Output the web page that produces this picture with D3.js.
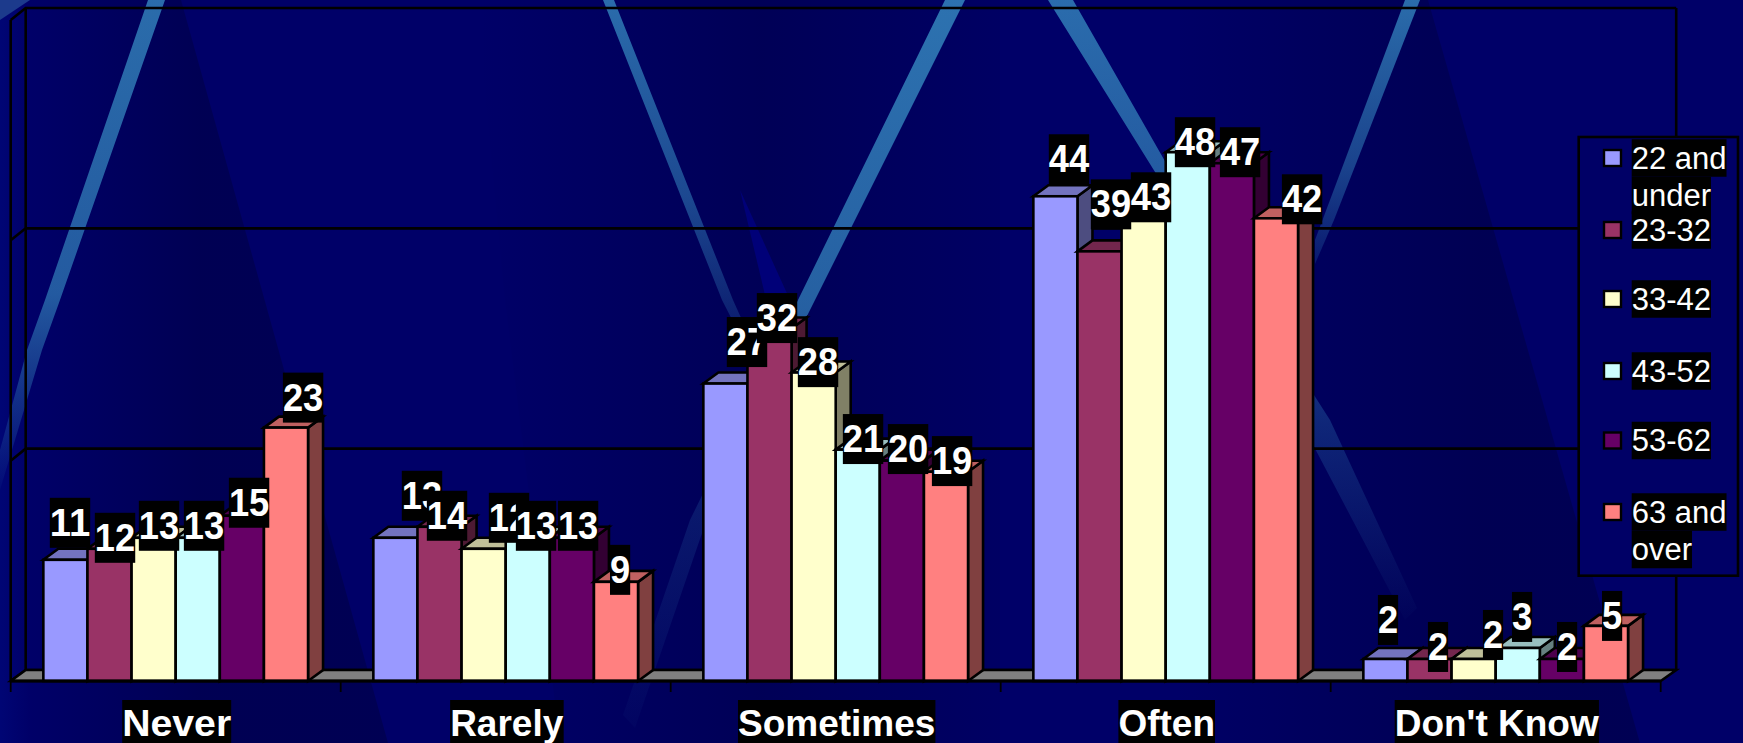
<!DOCTYPE html>
<html><head><meta charset="utf-8">
<style>html,body{margin:0;padding:0;background:#000066;overflow:hidden}svg{display:block}text{font-family:"Liberation Sans",Arial,sans-serif}</style>
<script src="https://cdn.jsdelivr.net/npm/d3@7"></script>
</head><body><svg id="c" width="1743" height="743"></svg>
<script>
const categories = ["Never","Rarely","Sometimes","Often","Don't Know"];
const seriesNames = ["22 and under","23-32","33-42","43-52","53-62","63 and over"];
const legendLines = [["22 and","under"],["23-32"],["33-42"],["43-52"],["53-62"],["63 and","over"]];
const s22 = [11,13,27,44,2];
const s23 = [12,14,32,39,2];
const s33 = [13,12,28,43,2];
const s43 = [13,13,21,48,3];
const s53 = [15,13,20,47,2];
const s63 = [23,9,19,42,5];
const seriesValues = [s22,s23,s33,s43,s53,s63];
const colors = ["#9999FF","#993366","#FFFFCC","#CCFFFF","#660066","#FF8080"];
const yTicks = [0,20,40,60];

// layout: hand-moved data labels, nudged from each bar's top centre [series][category]
const labelDx = [[4.6,26.6,21.6,13.6,2.6],[5.5,7.5,7.5,11.5,8.5],[5.4,25.4,4.4,7.4,19.4],[6.3,8.3,5.3,7.3,4.3],[7.2,6.2,6.2,8.2,5.2],[17.1,4.1,6.1,26.1,6.1]];
const labelDy = [[-37,-42,-41.5,-37,-39],[-11,-11,-10.4,-47,-12],[-12,-31,-10.4,-10,-24],[-12,-12,-10.6,-10,-31],[-13,-12,-11.6,-11,-12],[-30,-12,-10.6,-19,-10]];

const svg = d3.select("#c");
const defs = svg.append("defs");
function lg(id,x1,y1,x2,y2,stops){
  const g=defs.append("linearGradient").attr("id",id).attr("gradientUnits","userSpaceOnUse")
    .attr("x1",x1).attr("y1",y1).attr("x2",x2).attr("y2",y2);
  stops.forEach(s=>g.append("stop").attr("offset",s[0]).attr("stop-color",s[1]).attr("stop-opacity",s[2]));
}
const dk="#00003a", lt="#2f78b4";
lg("edge",0,0,30,0,[[0,"#0018a0",.22],[1,"#0018a0",0]]);
lg("wedgeA",30,0,200,0,[[0,dk,0],[1,dk,.45]]);
lg("wedgeB",480,0,760,0,[[0,dk,0],[1,dk,.38]]);
lg("wedgeC",760,0,1000,0,[[0,dk,.38],[1,dk,.1]]);
lg("wedgeD",1180,0,1480,0,[[0,dk,.05],[1,dk,.45]]);
lg("fadeA",0,0,0,490,[[0,lt,.9],[.6,lt,.75],[1,lt,.05]]);
lg("fadeB",0,0,0,360,[[0,lt,.9],[.55,lt,.6],[1,lt,.15]]);
lg("fadeC",0,0,0,735,[[0,lt,.95],[.42,lt,.8],[.6,lt,.28],[.7,lt,.2],[1,lt,.03]]);
lg("fadeD",0,0,0,620,[[0,lt,.9],[.3,lt,.75],[.7,lt,.3],[1,lt,.02]]);
lg("fadeE",0,0,0,280,[[0,lt,.9],[.6,lt,.55],[1,lt,.15]]);

// decorative slide background
const bg = svg.append("g");
const line = d3.line();
bg.append("rect").attr("width",1743).attr("height",743).attr("fill","#000068");
[
 [[[0,0],[30,0],[30,743],[0,743]],"url(#edge)"],
 [[[25,0],[181,0],[388,743],[25,743]],"url(#wedgeA)"],
 [[[476,0],[505,300],[560,743],[760,743],[760,0]],"url(#wedgeB)"],
 [[[760,0],[1000,0],[1000,743],[760,743]],"url(#wedgeC)"],
 [[[1180,0],[1428,0],[1640,743],[1180,743]],"url(#wedgeD)"],
 [[[740,190],[790,300],[850,470],[790,400]],"#000078"],
 [[[148,0],[165,0],[60,300],[42,350],[0,490],[0,450],[27,350],[45,300]],"url(#fadeA)"],
 [[[603,0],[614,0],[733,300],[760,360],[745,345],[722,300]],"url(#fadeB)"],
 [[[945,0],[965,0],[815,300],[710,510],[635,728],[623,715],[690,520],[798,300]],"url(#fadeC)"],
 [[[1048,0],[1073,0],[1170,170],[1330,420],[1417,608],[1405,620],[1300,420],[1160,180]],"url(#fadeD)"],
 [[[1405,0],[1420,0],[1334,220],[1315,264],[1315,240]],"url(#fadeE)"],
 [[[0,0],[30,0],[0,20]],"#1c3a8c"]
].forEach(d=>bg.append("path").attr("d",line(d[0])+"Z").attr("fill",d[1]));

// scales
const x0 = d3.scaleBand().domain(categories).range([10.7,1660.7]).padding(0);
const x1 = d3.scaleBand().domain(d3.range(6)).range([0,x0.bandwidth()]).paddingInner(0).paddingOuter(.74);
const y = d3.scaleLinear().domain([0,60]).range([681,20]);
const depthX = 15, depthY = 11;
const [xL,xR] = x0.range();
const wallY = v => y(v) - depthY - (v > 0 ? 1 : 0);
const wallR = xR + depthX + .5, wallL = xL + depthX;
const SW = 2.6;

// walls and floor
const walls = svg.append("g").attr("fill","none").attr("stroke","#000").attr("stroke-width",SW);
walls.selectAll(".g").data(yTicks).join("path")
  .attr("d",v=>line([[xL,y(v)],[wallL,wallY(v)],[wallR,wallY(v)]]));
walls.append("path").attr("d",line([[wallR,wallY(60)],[wallR,wallY(0)]]));
walls.append("path").attr("d",line([[wallL,wallY(60)],[wallL,wallY(0)]]));
walls.append("path").attr("d",line([[xL,y(60)],[xL,y(0)]]));
svg.append("path").attr("d",line([[xL,y(0)],[wallL,wallY(0)],[wallR,wallY(0)],[xR,y(0)]])+"Z")
  .attr("fill","#808080").attr("stroke","#000").attr("stroke-width",SW);

// 3D bars
const shade = (c,k)=>{const r=d3.rgb(c);return d3.rgb(r.r*k,r.g*k,r.b*k).formatHex();};
const barsG = svg.append("g").attr("stroke","#000").attr("stroke-width",SW).attr("stroke-linejoin","miter");
const labels = [];
categories.forEach((cat,c)=>{
  seriesValues.forEach((vals,s)=>{
    const v = vals[c], bx = x0(cat)+x1(s), w = x1.bandwidth(), top = y(v), base = y(0);
    const g = barsG.append("g");
    g.append("path").attr("fill",shade(colors[s],.5))
      .attr("d",line([[bx+w,top],[bx+w+depthX,top-depthY],[bx+w+depthX,base-depthY],[bx+w,base]])+"Z");
    g.append("path").attr("fill",shade(colors[s],.75))
      .attr("d",line([[bx,top],[bx+depthX,top-depthY],[bx+w+depthX,top-depthY],[bx+w,top]])+"Z");
    g.append("rect").attr("x",bx).attr("y",top).attr("width",w).attr("height",base-top).attr("fill",colors[s]);
    labels.push({v,x:bx+w/2+labelDx[s][c],y:top+labelDy[s][c]});
  });
});

// axis line and ticks
const axisG = svg.append("g").attr("stroke","#000");
axisG.append("line").attr("x1",xL).attr("x2",xR).attr("y1",y(0)).attr("y2",y(0)).attr("stroke-width",3);
axisG.selectAll(".t").data(categories.map(c=>x0(c)).concat([xR])).join("line")
  .attr("x1",d=>d).attr("x2",d=>d).attr("y1",y(0)).attr("y2",y(0)+11).attr("stroke-width",1.8);

function boxed(g,str,cx,cy,h,font,weight,anchor,fit){
  const node = g.append("g");
  const r = node.append("rect").attr("fill","#000");
  const t = node.append("text").text(str).attr("fill","#fff").attr("font-size",font).attr("font-weight",weight)
    .attr("text-anchor",anchor).attr("x",cx).attr("y",cy).attr("dominant-baseline","central");
  if (fit) t.attr("textLength",fit).attr("lengthAdjust","spacingAndGlyphs");
  const b = t.node().getBBox();
  r.attr("x",b.x).attr("y",cy-h/2).attr("width",b.width).attr("height",h);
}
// data labels: tall narrow glyphs, as in the reference
const lab = svg.append("g");
labels.forEach(d=>{const s=String(d.v);boxed(lab,s,d.x,d.y,50,38,"bold","middle",s.length*20.2);});
// category labels
const cat = svg.append("g");
const catFit = {"Never":109};
categories.forEach(c=>boxed(cat,c,x0(c)+x0.bandwidth()/2+1,723,46,37,"bold","middle",catFit[c]));

// legend
const leg = svg.append("g");
leg.append("rect").attr("x",1578.7).attr("y",137).attr("width",159.3).attr("height",438.7)
  .attr("fill","#000066").attr("stroke","#000").attr("stroke-width",SW);
const legCenters = [158,230,299,371,440.5,512];
seriesNames.forEach((n,i)=>{
  const cy = legCenters[i];
  leg.append("rect").attr("x",1604).attr("y",cy-8).attr("width",17).attr("height",16)
    .attr("fill",colors[i]).attr("stroke","#000").attr("stroke-width",2.4);
  legendLines[i].forEach((ln,j)=>boxed(leg,ln,1631.7,cy+j*37.5,37.5,31,"normal","start"));
});
</script></body></html>
